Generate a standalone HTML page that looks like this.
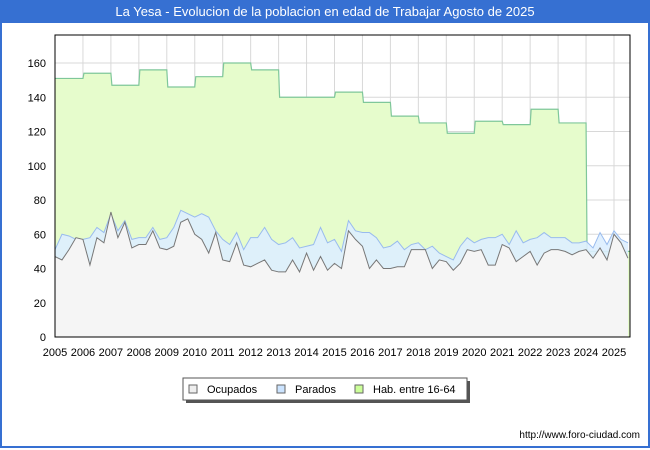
<!DOCTYPE html>
<html><head><meta charset="utf-8"><style>
body{margin:0;width:650px;height:450px;overflow:hidden;background:#fff;font-family:"Liberation Sans",sans-serif}
#wrap{position:absolute;left:0;top:0;width:646px;height:446px;border:2px solid #3670d2;border-top:none}
#title{position:absolute;left:0;top:0;width:650px;height:23px;background:#3670d2;color:#fff;font-size:13px;line-height:23px;text-align:center}
</style></head><body>
<div id="wrap"></div>
<div id="title">La Yesa - Evolucion de la poblacion en edad de Trabajar Agosto de 2025</div>
<svg id="chart" width="650" height="450" style="position:absolute;left:0;top:0"></svg>
<script>
const yearLabels=[2005,2006,2007,2008,2009,2010,2011,2012,2013,2014,2015,2016,2017,2018,2019,2020,2021,2022,2023,2024,2025];
const yTicks=[0,20,40,60,80,100,120,140,160];
const habYears=[2005,2006,2007,2008,2009,2010,2011,2012,2013,2014,2015,2016,2017,2018,2019,2020,2021,2022,2023,2024,2025];
const habValues=[151,154,147,156,146,152,160,156,140,140,143,137,129,125,119,126,124,133,125,50,50];
const totalValues=[51,60,59,57,57,58,64,61,72,62,68,57,58,58,64,57,58,64,74,72,70,72,70,62,57,54,61,51,58,58,64,57,54,55,58,52,53,54,64,55,57,50,68,62,61,61,58,52,53,56,51,54,55,51,53,49,47,45,53,58,55,57,58,58,60,54,62,55,57,58,61,58,58,58,55,55,56,52,61,54,62,57,55];
const ocupValues=[47,45,51,58,57,42,58,55,73,58,67,52,54,54,62,52,51,53,67,69,60,57,49,61,45,44,55,42,41,43,45,39,38,38,45,38,49,39,47,39,43,40,62,57,53,40,45,40,40,41,41,51,51,51,40,45,44,39,43,51,50,51,42,42,54,52,44,47,50,42,49,51,51,50,48,50,51,46,52,45,60,55,46];
const startYear=2005;
const X=t=>55+(t-2005)*27.95, Y=v=>337-v*1.7125;
const svg=document.getElementById('chart');const NS='http://www.w3.org/2000/svg';
function mk(tag,attrs,parent){const e=document.createElementNS(NS,tag);for(const k in attrs)e.setAttribute(k,attrs[k]);(parent||svg).appendChild(e);return e;}
const L=55,R=630,T=35,B=337;
let g=mk('rect',{x:L,y:T,width:R-L,height:B-T,fill:'#fff'});

yTicks.forEach(v=>{let l=mk('line',{x1:L,x2:R,y1:Y(v),y2:Y(v),stroke:'#d8d8d8'});
 let t=mk('text',{x:46,y:Y(v)+4,'text-anchor':'end','font-size':11,fill:'#000'});t.textContent=v;});
yearLabels.forEach(y=>{let l=mk('line',{x1:X(y),x2:X(y),y1:T,y2:B,stroke:'#d8d8d8'});
 let t=mk('text',{x:X(y),y:356,'text-anchor':'middle','font-size':11,fill:'#000'});t.textContent=y;});
let hp=[];habYears.forEach((y,i)=>{const x0=X(y)+(i?1:0),x1=Math.min(X(y+1),R);if(x0<R)hp.push([x0,Y(habValues[i])],[x1,Y(habValues[i])]);});
let hd='M'+hp.map(p=>p.join(',')).join(' L');
let ha=mk('path',{d:hd+` L${R},${B} L${L},${B} Z`,fill:'#e6fccc'});
let hl=mk('path',{d:hd,fill:'none',stroke:'#7fc79a','stroke-width':1.2});
function series(vals){return vals.map((v,i)=>[Math.min(X(startYear+i*0.25),R),Y(v)]);}
const tp=series(totalValues),op=series(ocupValues);
let td='M'+tp.map(p=>p.join(',')).join(' L');
let ta=mk('path',{d:td+` L${tp[tp.length-1][0]},${B} L${L},${B} Z`,fill:'#ddeeff',opacity:0.9});
let tl=mk('path',{d:td,fill:'none',stroke:'#99bbee','stroke-width':1});
let od='M'+op.map(p=>p.join(',')).join(' L');
let oa=mk('path',{d:od+` L${op[op.length-1][0]},${B} L${L},${B} Z`,fill:'#f5f5f5'});
let ol=mk('path',{d:od,fill:'none',stroke:'#777','stroke-width':1});
let fr=mk('rect',{x:L,y:T,width:R-L,height:B-T,fill:'none',stroke:'#000'});
let lg=mk('g',{});
mk('rect',{x:186,y:381,width:284,height:22,fill:'#555'},lg);
mk('rect',{x:183,y:378,width:284,height:22,fill:'#fff',stroke:'#555'},lg);
[[189,'#eeeeee','Ocupados'],[277,'#cce4ff','Parados'],[355,'#ccff99','Hab. entre 16-64']].forEach(([x,c,s])=>{
 let e=mk('g',{},lg);
 mk('rect',{x:x,y:385,width:8,height:8,fill:c,stroke:'#666'},e);
 let t=mk('text',{x:x+18,y:393,'font-size':11,fill:'#000'},e);t.textContent=s;});
let u=mk('text',{x:640,y:438,'text-anchor':'end','font-size':10,fill:'#000'});u.textContent='http://www.foro-ciudad.com';
</script>
</body></html>
